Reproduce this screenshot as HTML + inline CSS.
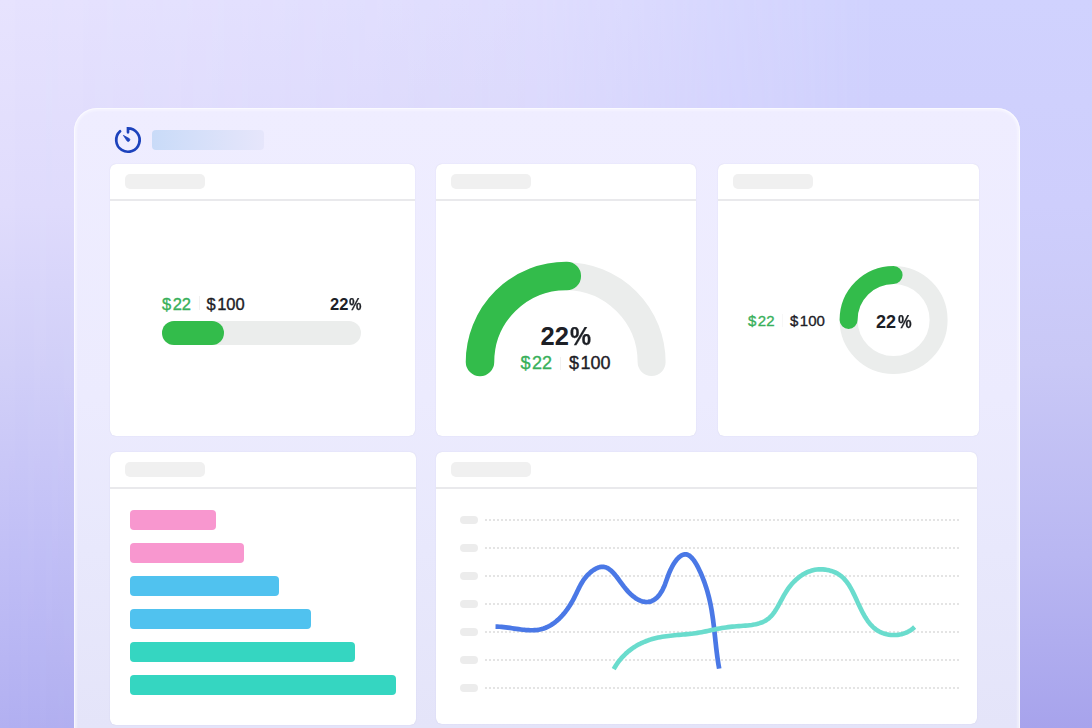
<!DOCTYPE html>
<html><head><meta charset="utf-8">
<style>
html,body{margin:0;padding:0;}
body{width:1092px;height:728px;overflow:hidden;position:relative;font-family:"Liberation Sans",sans-serif;
background:linear-gradient(180deg,rgb(231,227,254) 0px,rgb(224,220,252) 205px,rgb(210,208,248) 364px,rgb(193,191,246) 555px,rgb(178,176,241) 728px);}
.bgr{position:absolute;left:0;top:0;width:1092px;height:728px;
background:linear-gradient(180deg,rgb(208,210,254) 0px,rgb(206,206,252) 205px,rgb(201,200,246) 364px,rgb(185,183,242) 555px,rgb(167,163,236) 728px);
-webkit-mask-image:linear-gradient(90deg,transparent 0%,rgba(0,0,0,0.35) 50%,#000 80%);mask-image:linear-gradient(90deg,transparent 0%,rgba(0,0,0,0.35) 50%,#000 80%);}
.panel{position:absolute;left:74px;top:108px;width:946px;height:660px;box-sizing:border-box;border-radius:23px;
background:linear-gradient(180deg,rgb(239,237,255) 0px,rgb(236,235,254) 290px,rgb(232,232,252) 442px,rgb(228,228,249) 620px);
box-shadow:inset 0 0 0 1px rgba(255,255,255,0.55), inset 0 0 2px 3px rgba(255,255,255,0.35);}
.card{position:absolute;background:#fff;border-radius:6px;overflow:hidden;box-shadow:0 0 1px rgba(120,120,170,0.3);}
.card .ph{position:absolute;left:15px;top:10px;width:80px;height:15px;border-radius:5px;background:#f0f0f0;}
.card .dv{position:absolute;left:0;right:0;top:35px;height:1.5px;background:#e9e9ec;}
.t{position:absolute;white-space:nowrap;line-height:1;}
.m{-webkit-text-stroke:0.35px currentColor;}
.d{margin-right:1.5px;}
.pc{display:inline-block;transform-origin:0 50%;-webkit-text-stroke:0.25px currentColor;}
.hb{position:absolute;left:152px;top:130px;width:112px;height:20px;border-radius:4px;
background:linear-gradient(90deg,#c9dbf8,#dfe3fa 75%,#e6e6fb);}
</style></head>
<body>
<div class="bgr"></div>
<div class="panel"></div>

<svg style="position:absolute;left:0;top:0" width="1092" height="728">
  <!-- icon -->
  <path d="M128 132.3 V128.3 A11.7 11.7 0 1 1 120.1 131.3" fill="none" stroke="#1c42bc" stroke-width="2.7" stroke-linecap="round"/>
  <path d="M123.3 135.3 L129.3 138.6 A1.6 1.6 0 0 1 127.1 141 Z" fill="#1c42bc" stroke="#1c42bc" stroke-width="0.7" stroke-linejoin="round"/>
</svg>
<div class="hb"></div>

<!-- card 1 -->
<div class="card" style="left:110px;top:164px;width:305px;height:272px;">
  <div class="ph"></div><div class="dv"></div>
</div>
<!-- card 2 -->
<div class="card" style="left:436px;top:164px;width:260px;height:272px;">
  <div class="ph"></div><div class="dv"></div>
</div>
<!-- card 3 -->
<div class="card" style="left:718px;top:164px;width:261px;height:272px;">
  <div class="ph"></div><div class="dv"></div>
</div>
<!-- card 4 -->
<div class="card" style="left:110px;top:452px;width:306px;height:273px;">
  <div class="ph"></div><div class="dv"></div>
</div>
<!-- card 5 -->
<div class="card" style="left:436px;top:452px;width:541px;height:272px;">
  <div class="ph"></div><div class="dv"></div>
</div>

<svg style="position:absolute;left:0;top:0" width="1092" height="728">
  <!-- card1 progress -->
  <rect x="162" y="321" width="199" height="24" rx="12" fill="#ebedec"/>
  <rect x="162" y="321" width="62" height="24" rx="12" fill="#33bc4b"/>
  <!-- card2 gauge -->
  <path d="M480 362 A85.8 85.8 0 0 1 651.6 362" fill="none" stroke="#ebedec" stroke-width="28" stroke-linecap="round"/>
  <path d="M480 362 A86 86 0 0 1 566.8 276" fill="none" stroke="#33bc4b" stroke-width="28.5" stroke-linecap="round"/>
  <!-- card3 donut -->
  <circle cx="893.6" cy="320" r="45" fill="none" stroke="#ebedec" stroke-width="18"/>
  <path d="M848.6 320 A45 45 0 0 1 893.6 275" fill="none" stroke="#33bc4b" stroke-width="18" stroke-linecap="round"/>
  <!-- separators -->
  <rect x="199" y="296" width="1" height="14" fill="#f1f1f1"/>
  <rect x="560" y="357" width="1" height="13" fill="#f1f1f1"/>
  <rect x="782" y="314" width="1" height="13" fill="#f7f7f7"/>
  <!-- bars -->
  <rect x="130" y="510" width="86" height="20" rx="4" fill="#f897cf"/>
  <rect x="130" y="543" width="114" height="20" rx="4" fill="#f897cf"/>
  <rect x="130" y="576" width="149" height="20" rx="4" fill="#50c2ef"/>
  <rect x="130" y="609" width="181" height="20" rx="4" fill="#50c2ef"/>
  <rect x="130" y="642" width="225" height="20" rx="4" fill="#35d6c1"/>
  <rect x="130" y="675" width="266" height="20" rx="4" fill="#35d6c1"/>
  <!-- grid -->
  <g fill="#ececec">
    <rect x="460" y="516" width="18" height="8" rx="4"/>
    <rect x="460" y="544" width="18" height="8" rx="4"/>
    <rect x="460" y="572" width="18" height="8" rx="4"/>
    <rect x="460" y="600" width="18" height="8" rx="4"/>
    <rect x="460" y="628" width="18" height="8" rx="4"/>
    <rect x="460" y="656" width="18" height="8" rx="4"/>
    <rect x="460" y="684" width="18" height="8" rx="4"/>
  </g>
  <g stroke="#e4e4e4" stroke-width="2" stroke-dasharray="2 2">
    <line x1="485" y1="520" x2="959" y2="520"/>
    <line x1="485" y1="548" x2="959" y2="548"/>
    <line x1="485" y1="576" x2="959" y2="576"/>
    <line x1="485" y1="604" x2="959" y2="604"/>
    <line x1="485" y1="632" x2="959" y2="632"/>
    <line x1="485" y1="660" x2="959" y2="660"/>
    <line x1="485" y1="688" x2="959" y2="688"/>
  </g>
  <!-- lines -->
  <path d="M495.52 626.62 L497.49 626.64 L499.50 626.73 L501.54 626.88 L503.61 627.08 L505.71 627.33 L507.83 627.61 L509.96 627.92 L512.11 628.24 L514.27 628.57 L516.44 628.89 L518.61 629.20 L520.78 629.49 L522.95 629.74 L525.12 629.96 L527.27 630.12 L529.41 630.22 L531.54 630.26 L533.64 630.21 L535.72 630.08 L537.78 629.84 L539.80 629.50 L541.79 629.04 L543.74 628.46 L545.65 627.76 L547.52 626.93 L549.35 626.00 L551.14 624.96 L552.89 623.82 L554.60 622.59 L556.26 621.28 L557.88 619.88 L559.45 618.41 L560.98 616.87 L562.46 615.27 L563.89 613.61 L565.27 611.90 L566.60 610.15 L567.89 608.36 L569.12 606.54 L570.30 604.69 L571.43 602.83 L572.51 600.95 L573.53 599.06 L574.50 597.18 L575.43 595.29 L576.33 593.41 L577.23 591.54 L578.12 589.68 L579.03 587.84 L579.97 586.02 L580.95 584.23 L581.98 582.46 L583.09 580.72 L584.28 579.02 L585.57 577.35 L586.97 575.73 L588.49 574.15 L590.15 572.63 L591.93 571.18 L593.81 569.86 L595.75 568.71 L597.72 567.78 L599.69 567.13 L601.62 566.79 L603.49 566.81 L605.29 567.18 L607.04 567.87 L608.73 568.83 L610.37 570.05 L611.97 571.49 L613.54 573.10 L615.09 574.88 L616.61 576.77 L618.12 578.74 L619.62 580.78 L621.12 582.83 L622.62 584.87 L624.14 586.87 L625.68 588.79 L627.24 590.61 L628.82 592.32 L630.42 593.91 L632.04 595.38 L633.67 596.72 L635.30 597.92 L636.95 598.98 L638.59 599.89 L640.23 600.65 L641.88 601.24 L643.51 601.68 L645.13 601.94 L646.74 602.02 L648.33 601.92 L649.91 601.64 L651.46 601.15 L652.98 600.47 L654.48 599.58 L655.94 598.47 L657.37 597.15 L658.76 595.60 L660.10 593.82 L661.40 591.81 L662.66 589.55 L663.86 587.04 L665.00 584.28 L666.10 581.29 L667.19 578.19 L668.30 575.14 L669.47 572.23 L670.69 569.49 L671.97 566.94 L673.28 564.59 L674.64 562.44 L676.02 560.52 L677.42 558.84 L678.85 557.40 L680.28 556.22 L681.72 555.32 L683.15 554.70 L684.58 554.37 L685.99 554.36 L687.38 554.66 L688.75 555.29 L690.09 556.21 L691.39 557.40 L692.67 558.81 L693.91 560.43 L695.11 562.21 L696.28 564.13 L697.40 566.17 L698.48 568.27 L699.52 570.43 L700.51 572.60 L701.45 574.76 L702.35 576.91 L703.20 579.05 L704.00 581.18 L704.77 583.30 L705.49 585.41 L706.18 587.51 L706.83 589.60 L707.44 591.69 L708.02 593.77 L708.56 595.84 L709.08 597.90 L709.56 599.97 L710.02 602.02 L710.45 604.07 L710.86 606.12 L711.24 608.17 L711.60 610.21 L711.94 612.25 L712.26 614.29 L712.56 616.33 L712.85 618.37 L713.13 620.41 L713.39 622.45 L713.64 624.49 L713.89 626.53 L714.12 628.58 L714.35 630.63 L714.57 632.68 L714.79 634.74 L715.01 636.80 L715.23 638.86 L715.45 640.94 L715.68 643.01 L715.91 645.10 L716.14 647.19 L716.38 649.29 L716.64 651.40 L716.90 653.52 L717.17 655.65 L717.46 657.79 L717.77 659.94 L718.09 662.10 L718.43 664.27 L718.80 666.45 L719.18 668.65" fill="none" stroke="#4a78e6" stroke-width="4.7" stroke-linejoin="round"/>
  <path d="M613.74 669.16 L614.86 667.20 L616.04 665.30 L617.26 663.47 L618.54 661.71 L619.86 660.00 L621.23 658.37 L622.65 656.79 L624.11 655.28 L625.61 653.83 L627.15 652.44 L628.73 651.11 L630.35 649.84 L632.00 648.63 L633.69 647.47 L635.41 646.38 L637.17 645.34 L638.95 644.36 L640.77 643.44 L642.61 642.57 L644.48 641.76 L646.37 641.00 L648.29 640.30 L650.23 639.65 L652.19 639.05 L654.17 638.50 L656.17 638.01 L658.18 637.56 L660.21 637.16 L662.26 636.80 L664.31 636.48 L666.38 636.19 L668.45 635.93 L670.53 635.69 L672.62 635.47 L674.71 635.27 L676.81 635.08 L678.90 634.90 L681.00 634.72 L683.09 634.54 L685.18 634.35 L687.26 634.15 L689.34 633.94 L691.41 633.71 L693.47 633.46 L695.52 633.18 L697.56 632.87 L699.58 632.53 L701.60 632.16 L703.61 631.78 L705.61 631.38 L707.62 630.96 L709.62 630.54 L711.62 630.12 L713.63 629.70 L715.65 629.28 L717.67 628.87 L719.71 628.48 L721.76 628.10 L723.83 627.75 L725.91 627.42 L728.02 627.13 L730.15 626.87 L732.30 626.65 L734.47 626.46 L736.65 626.29 L738.84 626.13 L741.03 625.98 L743.21 625.81 L745.38 625.63 L747.53 625.43 L749.65 625.19 L751.74 624.91 L753.79 624.57 L755.80 624.17 L757.76 623.71 L759.66 623.16 L761.50 622.52 L763.27 621.79 L764.96 620.95 L766.57 619.99 L768.09 618.91 L769.53 617.70 L770.88 616.37 L772.17 614.94 L773.39 613.42 L774.56 611.80 L775.68 610.12 L776.76 608.37 L777.82 606.57 L778.86 604.72 L779.88 602.85 L780.90 600.95 L781.93 599.04 L782.97 597.13 L784.04 595.23 L785.14 593.35 L786.28 591.51 L787.46 589.70 L788.70 587.95 L789.99 586.25 L791.33 584.60 L792.72 583.02 L794.16 581.50 L795.65 580.05 L797.18 578.68 L798.76 577.38 L800.38 576.17 L802.05 575.04 L803.76 573.99 L805.51 573.05 L807.30 572.20 L809.13 571.45 L811.00 570.81 L812.91 570.27 L814.85 569.85 L816.83 569.55 L818.85 569.37 L820.90 569.32 L822.97 569.39 L825.06 569.59 L827.14 569.91 L829.20 570.36 L831.24 570.93 L833.23 571.61 L835.16 572.42 L837.01 573.35 L838.78 574.39 L840.45 575.55 L842.02 576.82 L843.49 578.19 L844.87 579.66 L846.18 581.21 L847.42 582.84 L848.59 584.55 L849.70 586.31 L850.76 588.14 L851.79 590.01 L852.78 591.92 L853.74 593.87 L854.68 595.84 L855.61 597.83 L856.54 599.83 L857.46 601.84 L858.39 603.85 L859.32 605.84 L860.26 607.82 L861.23 609.79 L862.21 611.72 L863.22 613.62 L864.26 615.48 L865.34 617.30 L866.46 619.06 L867.62 620.76 L868.84 622.40 L870.11 623.97 L871.44 625.45 L872.83 626.86 L874.30 628.17 L875.84 629.38 L877.45 630.49 L879.16 631.49 L880.95 632.37 L882.82 633.13 L884.75 633.77 L886.75 634.29 L888.79 634.68 L890.87 634.93 L892.98 635.06 L895.09 635.05 L897.22 634.90 L899.33 634.62 L901.43 634.19 L903.49 633.62 L905.51 632.90 L907.49 632.03 L909.40 631.01 L911.23 629.83 L912.99 628.50 L914.64 627.00" fill="none" stroke="#6adccd" stroke-width="4.6" stroke-linejoin="round"/>
</svg>

<!-- texts -->
<div class="t m" style="left:162px;top:296px;font-size:16.5px;color:#38b05a;"><span class="d">$</span>22</div>
<div class="t m" style="left:206.5px;top:296px;font-size:16.5px;color:#1d2026;"><span class="d">$</span>100</div>
<div class="t" style="left:330px;top:296px;font-size:16.5px;font-weight:bold;color:#1d2026;">22<span class="pc" style="transform:scaleX(0.85);margin-left:1px;">%</span></div>

<div class="t" style="left:540.5px;top:324px;font-size:25.5px;font-weight:bold;color:#1d2026;">22<span class="pc" style="transform:scaleX(0.93);margin-left:1px;">%</span></div>
<div class="t m" style="left:520.5px;top:354px;font-size:18px;color:#38b05a;"><span class="d">$</span>22</div>
<div class="t m" style="left:569px;top:354px;font-size:18px;color:#1d2026;"><span class="d">$</span>100</div>

<div class="t" style="left:876px;top:313px;font-size:18px;font-weight:bold;color:#1d2026;">22<span class="pc" style="transform:scaleX(0.85);margin-left:1.5px;">%</span></div>
<div class="t m" style="left:748px;top:313px;font-size:15px;color:#38b05a;"><span class="d">$</span>22</div>
<div class="t m" style="left:790px;top:313px;font-size:15px;color:#1d2026;"><span class="d">$</span>100</div>
</body></html>
